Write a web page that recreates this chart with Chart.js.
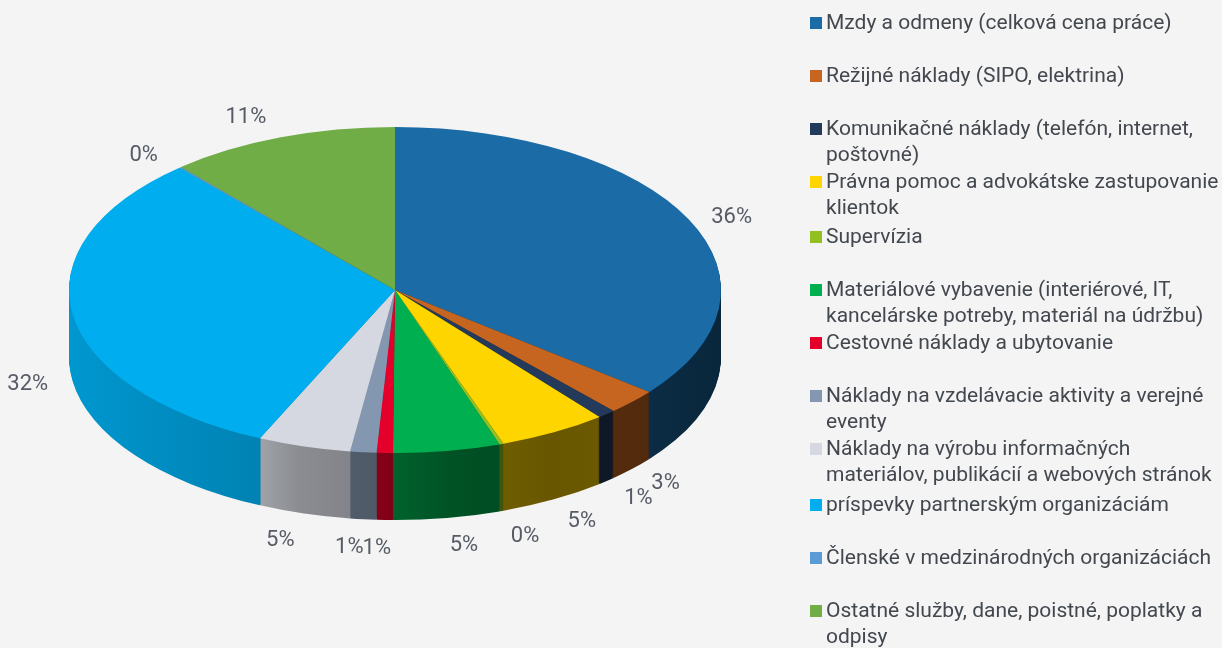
<!DOCTYPE html>
<html><head><meta charset="utf-8">
<style>html,body{margin:0;padding:0;background:#f4f4f4;overflow:hidden}canvas{display:block}</style>
<script src="https://cdn.jsdelivr.net/npm/chart.js@4"></script>
</head><body><canvas id="c" width="1222" height="648"></canvas>
<script>
const categories = [
  "Mzdy a odmeny (celková cena práce)",
  "Režijné náklady (SIPO, elektrina)",
  "Komunikačné náklady (telefón, internet,\npoštovné)",
  "Právna pomoc a advokátske zastupovanie\nklientok",
  "Supervízia",
  "Materiálové vybavenie (interiérové, IT,\nkancelárske potreby, materiál na údržbu)",
  "Cestovné náklady a ubytovanie",
  "Náklady na vzdelávacie aktivity a verejné\neventy",
  "Náklady na výrobu informačných\nmateriálov, publikácií a webových stránok",
  "príspevky partnerským organizáciám",
  "Členské v medzinárodných organizáciách",
  "Ostatné služby, dane, poistné, poplatky a\nodpisy"
];
const shares = [35.75, 2.55, 0.9, 5.4, 0.2, 5.3, 0.8, 1.3, 4.6, 31.7, 0.1, 11.4];
const colors = ["#1a6ba6","#c5651f","#233a5a","#ffd500","#92c020","#00b050","#e4002b","#8497b0","#d5d8e0","#00aeef","#5b9bd5","#70ad47"];

const RX = 326, DEPTH = 67;
const shadeStops = [[70,.87],[260,.75],[300,.65],[370,.6],[450,.47],[550,.41],[630,.43],[720,.36]];

function rgb(hex, f){
  const n = parseInt(hex.slice(1),16);
  return `rgb(${(n>>16&255)*f|0},${(n>>8&255)*f|0},${(n&255)*f|0})`;
}
const pie3d = {
  id:'pie3d',
  beforeDatasetsDraw(chart){
    const ctx = chart.ctx, arcs = chart.getDatasetMeta(0).data;
    const cx = arcs[0].x, sx = RX/arcs[0].outerRadius;
    const toUser = x => cx + (x-cx)/sx;
    ctx.save();
    ctx.translate(cx,0); ctx.scale(sx,1); ctx.translate(-cx,0);
    const grads = arcs.map((a,i)=>{
      const g = ctx.createLinearGradient(toUser(70),0,toUser(720),0);
      shadeStops.forEach(([x,f])=>g.addColorStop((x-70)/650, rgb(colors[i],f)));
      return g;
    });
    for(let d=DEPTH;d>0;d--){
      ctx.save(); ctx.translate(0,d);
      arcs.forEach((a,i)=>{
        const o = a.options;
        a.options = Object.assign({},o,{backgroundColor:grads[i],borderWidth:0});
        a.draw(ctx);
        a.options = o;
      });
      ctx.restore();
    }
  },
  afterDatasetsDraw(chart){
    const ctx = chart.ctx;
    ctx.restore();
    const arcs = chart.getDatasetMeta(0).data;
    const cx = arcs[0].x, cy = arcs[0].y, ry = arcs[0].outerRadius;
    ctx.fillStyle = '#565b66'; ctx.font = '22px Roboto'; ctx.textAlign='center'; ctx.textBaseline='middle';
    const total = shares.reduce((a,b)=>a+b,0);
    arcs.forEach((a,i)=>{
      const mid = (a.startAngle+a.endAngle)/2, c = Math.cos(mid), s = Math.sin(mid);
      const x = cx + RX*c + 45*Math.sign(c)*Math.sqrt(Math.abs(c))
              - (c>0&&s>0 ? 7*c : 0) - (c<0&&s<0 ? 60*Math.max(0,-s-.8) : 0);
      const y = cy + ry*s + (s>0?DEPTH:0) + 26*Math.sign(s)*s*s + 2.5;
      ctx.fillText(Math.round(shares[i]/total*100)+'%', x, y);
    });
    // legend
    ctx.textAlign='left';
    ctx.font = '21px Roboto';
    chart.data.labels.forEach((t,i)=>{
      const y = 23 + 53*i + (i>=4?2:0) + (i>=9?3:0);
      ctx.fillStyle = colors[i]; ctx.fillRect(810,y-6,12,12);
      ctx.fillStyle = '#43484f';
      t.split('\n').forEach((line,k)=>ctx.fillText(line,826,y+1+k*26));
    });
  }
};
new Chart(document.getElementById('c'),{
  type:'pie',
  data:{labels:categories,datasets:[{data:shares,backgroundColor:colors,borderWidth:0,clip:false}]},
  options:{
    responsive:false,animation:false,devicePixelRatio:1,radius:163,
    layout:{padding:{left:0,right:432,top:0,bottom:68}},
    plugins:{legend:{display:false},tooltip:{enabled:false},title:{display:false}}
  },
  plugins:[pie3d]
});
</script></body></html>
